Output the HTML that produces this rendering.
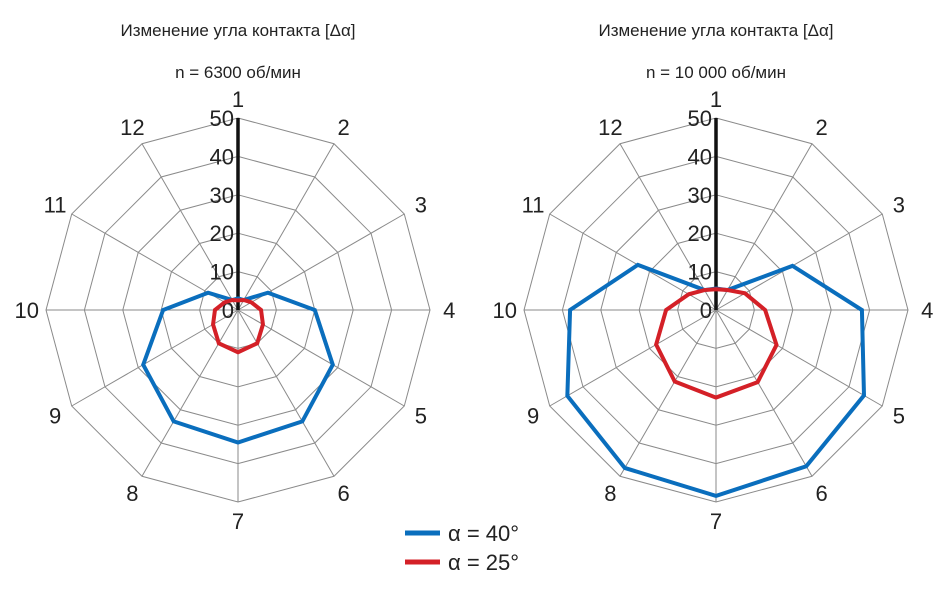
<!DOCTYPE html>
<html><head><meta charset="utf-8"><style>
body{margin:0;background:#fff;}
svg{display:block;font-family:"Liberation Sans",sans-serif;}
</style></head><body>
<svg id="chart" width="946" height="590"></svg>
<script>
const categories=["1","2","3","4","5","6","7","8","9","10","11","12"];
const ticks=[0,10,20,30,40,50];
const left40=[3,3,9,20,28.5,33.5,34.5,33.5,28.5,19.5,9,3];
const left25=[2.5,3,4,6,7.5,10,11,10,7.5,6,4,3];
const right40=[5.6,6,23,38,44.5,47,48.4,47.5,44.7,38,23.5,6];
const right25=[5.4,6,8.7,12.8,18.2,21.7,22.8,21.5,18,13,8.2,6];
const titles=["Изменение угла контакта [Δα]","Изменение угла контакта [Δα]"];
const subtitles=["n = 6300 об/мин","n = 10 000 об/мин"];
const NS="http://www.w3.org/2000/svg";
const svg=document.getElementById('chart');
function mk(t,a,p){const e=document.createElementNS(NS,t);for(const k in a)e.setAttribute(k,a[k]);(p||svg).appendChild(e);return e;}
const R=192,MAX=50;
function pt(cx,cy,i,v){const a=i*2*Math.PI/categories.length;const r=v/MAX*R;return [cx+r*Math.sin(a),cy-r*Math.cos(a)];}
function radar(cx,cy,s40,s25,idx){
  const g=mk('g',{});
  
  
  const t=mk('text',{x:cx,y:36,'text-anchor':'middle','font-size':17,fill:'#222'},g);t.textContent=titles[idx];
  
  const st=mk('text',{x:cx,y:78,'text-anchor':'middle','font-size':17,fill:'#222'},g);st.textContent=subtitles[idx];
  
  ticks.slice(1).forEach(v=>{const p=categories.map((c,i)=>pt(cx,cy,i,v).join(',')).join(' ');
    const rg=mk('polygon',{points:p,fill:'none',stroke:'#8a8a8a','stroke-width':1},g);
    });
  categories.forEach((c,i)=>{const e=pt(cx,cy,i,MAX);
    const l=mk('line',{x1:cx,y1:cy,x2:e[0],y2:e[1],stroke:'#8a8a8a','stroke-width':1},g);
    
    const lp=pt(cx,cy,i,MAX*1.1);
    const tx=mk('text',{x:lp[0],y:lp[1]+8,'text-anchor':'middle','font-size':22,fill:'#222'},g);tx.textContent=c;
    });
  const ax=mk('line',{x1:cx,y1:cy,x2:cx,y2:cy-R,stroke:'#111','stroke-width':3.5},g);
  
  ticks.forEach(v=>{const y=cy-v/MAX*R;
    const tx=mk('text',{x:cx-4,y:y+8,'text-anchor':'end','font-size':22,fill:'#222'},g);tx.textContent=v;
    });
  [[s40,'#0a6ebd','series-alpha-40'],[s25,'#d42027','series-alpha-25']].forEach(([s,col,n])=>{
    const p=s.map((v,i)=>pt(cx,cy,i,v).join(',')).join(' ');
    const pg=mk('polygon',{points:p,fill:'none',stroke:col,'stroke-width':4,'stroke-linejoin':'miter'},g);
    });
}
radar(238,310,left40,left25,0);
radar(716,310,right40,right25,1);
[['#0a6ebd','α = 40°',533],['#d42027','α = 25°',562]].forEach(([c,t,y])=>{
  const g=mk('g',{});
  
  mk('line',{x1:405,y1:y,x2:440,y2:y,stroke:c,'stroke-width':5},g);
  const tx=mk('text',{x:448,y:y+8,'font-size':22,fill:'#222'},g);tx.textContent=t;
});
</script>
</body></html>
